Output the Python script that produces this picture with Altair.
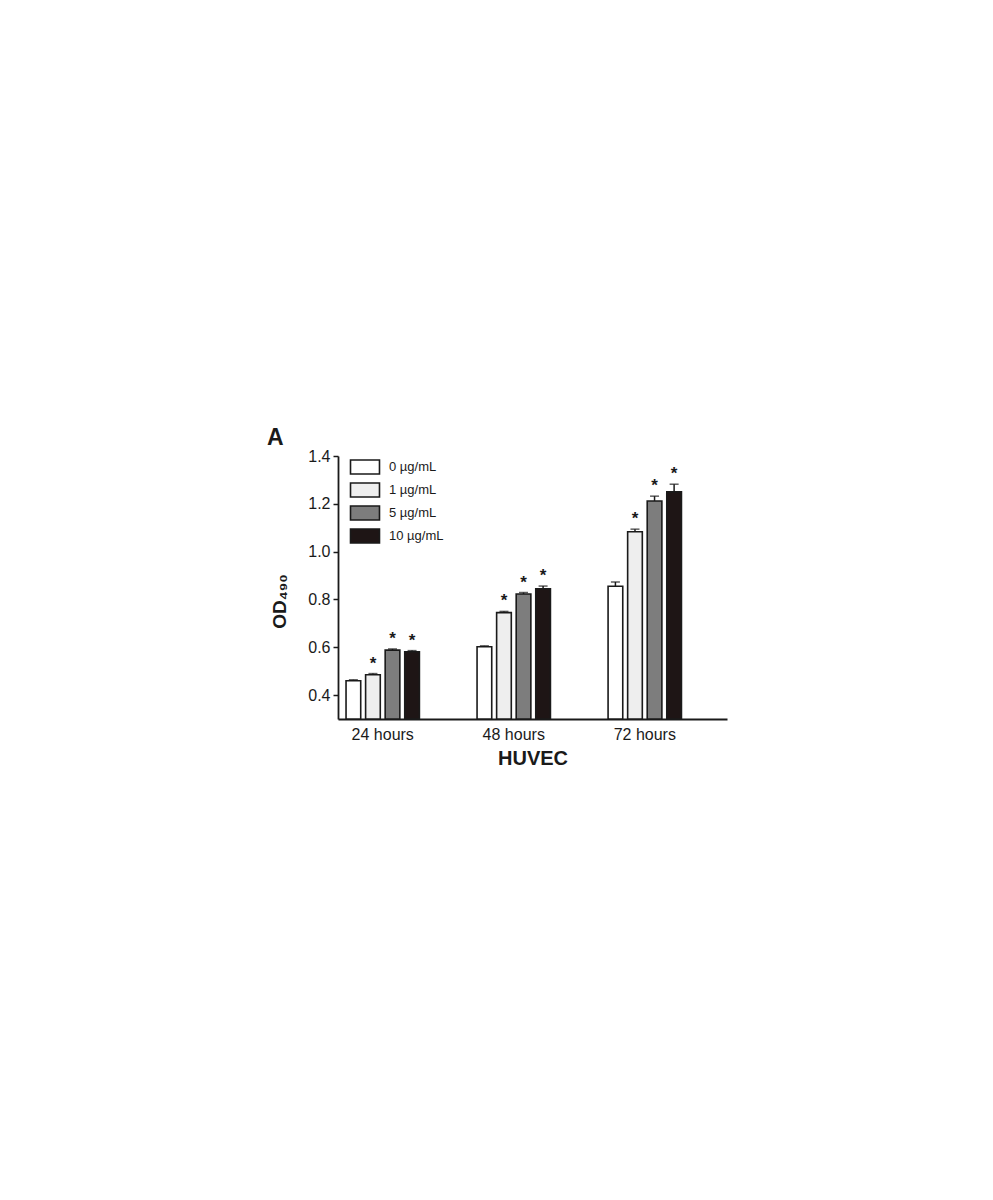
import altair as alt
import pandas as pd

groups = ["24 hours", "48 hours", "72 hours"]
concs = ["0 µg/mL", "1 µg/mL", "5 µg/mL", "10 µg/mL"]
od_0 = [0.460, 0.602, 0.855]
od_1 = [0.485, 0.745, 1.083]
od_5 = [0.588, 0.823, 1.212]
od_10 = [0.581, 0.845, 1.250]
err_0 = [0.004, 0.004, 0.018]
err_1 = [0.005, 0.005, 0.011]
err_5 = [0.005, 0.006, 0.020]
err_10 = [0.005, 0.011, 0.032]
sig_0 = [False, False, False]
sig_1 = [True, True, True]
sig_5 = [True, True, True]
sig_10 = [True, True, True]
fills = ["#ffffff", "#eeeeee", "#7d7d7d", "#1e1515"]

rows = []
for c, vals, errs, sigs in zip(concs, [od_0, od_1, od_5, od_10],
                               [err_0, err_1, err_5, err_10],
                               [sig_0, sig_1, sig_5, sig_10]):
    for g, v, e, s in zip(groups, vals, errs, sigs):
        rows.append({"group": g, "conc": c, "od": v, "top": v + e,
                     "star": "*" if s else ""})
df = pd.DataFrame(rows)

FONT = "Liberation Sans"
INK = "#1a1a1a"

x_enc = alt.X("group:N", sort=groups,
              scale=alt.Scale(paddingInner=0.44, paddingOuter=0.2045, align=0.15),
              axis=alt.Axis(title="HUVEC", labelAngle=0, ticks=False,
                            labelFontSize=16, labelPadding=7, labelColor=INK,
                            labelFont=FONT, titleFont=FONT, titleFontSize=20,
                            titleFontWeight="bold", titleColor=INK, titlePadding=6,
                            domainColor=INK, domainWidth=1.8))
xo_enc = alt.XOffset("conc:N", sort=concs,
                     scale=alt.Scale(paddingInner=0.25, paddingOuter=0))
y_scale = alt.Scale(domain=[0.3, 1.4], nice=False, zero=False)

base = alt.Chart(df).encode(x=x_enc, xOffset=xo_enc)

bars = base.mark_bar(stroke=INK, strokeWidth=1.6).encode(
    y=alt.Y("od:Q", scale=y_scale,
            axis=alt.Axis(title="OD₄₉₀", values=[0.4, 0.6, 0.8, 1.0, 1.2, 1.4],
                          format=".1f", grid=False, tickSize=5, tickWidth=1.5,
                          tickColor=INK, domainColor=INK, domainWidth=1.8,
                          labelFontSize=16, labelFont=FONT, labelColor=INK,
                          labelPadding=3, titleFont=FONT, titleFontSize=19,
                          titleFontWeight="bold", titleColor=INK,
                          titleX=-59, titleY=145, titleBaseline="middle")),
    y2=alt.datum(0.3),
    fill=alt.Fill("conc:N", sort=concs,
                  scale=alt.Scale(domain=concs, range=fills),
                  legend=alt.Legend(title=None, orient="none", legendX=19, legendY=3,
                                    symbolType="M-2.07,-1H2.07V1H-2.07Z",
                                    symbolSize=196, symbolStrokeColor=INK,
                                    symbolStrokeWidth=1.6, labelOffset=16,
                                    labelFontSize=13, labelFont=FONT,
                                    labelColor=INK, rowPadding=1, padding=0,
                                    symbolOpacity=1)),
)

err_rule = base.mark_rule(color=INK, strokeWidth=1.5).encode(
    y=alt.Y("od:Q", scale=y_scale), y2="top:Q")
err_cap = base.mark_tick(color=INK, thickness=1.5, size=9).encode(
    y=alt.Y("top:Q", scale=y_scale))
stars = base.mark_text(font=FONT, fontSize=17, fontWeight="bold", color=INK,
                       baseline="alphabetic", dy=-5).encode(
    y=alt.Y("top:Q", scale=y_scale), text="star:N")

chart = alt.layer(bars, err_rule, err_cap, stars).properties(
    width=389, height=263,
    title=alt.TitleParams("A", anchor="start", frame="group", dx=-71, dy=11,
                          offset=9, fontSize=23, fontWeight="bold", font=FONT,
                          color=INK),
    autosize=alt.AutoSizeParams(type="none"),
    padding={"left": 330, "top": 448, "right": 250, "bottom": 470},
).configure(background="white", view=alt.ViewConfig(stroke=None))

chart.save("out.html", embed_options={"renderer": "svg", "actions": False})
